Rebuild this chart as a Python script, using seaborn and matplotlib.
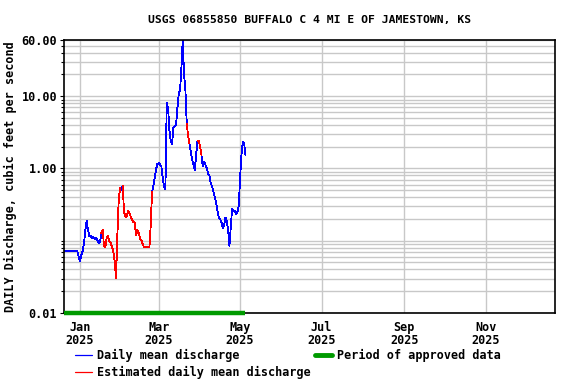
import numpy as np
import pandas as pd
import matplotlib
matplotlib.use("Agg")
import matplotlib.pyplot as plt
from matplotlib.ticker import LogLocator, NullFormatter, FixedLocator
from matplotlib.lines import Line2D
import seaborn as sns

# daily mean discharge (cfs), starting 2024-12-20
start_date = "2024-12-20"
discharge = [
    0.072, 0.072, 0.072, 0.072, 0.072, 0.072, 0.072, 0.072, 0.072, 0.072, 0.072,
    0.060, 0.052, 0.064, 0.072, 0.093, 0.141, 0.188, 0.141, 0.116, 0.116, 0.109,
    0.112, 0.106, 0.109, 0.102, 0.093, 0.096, 0.128, 0.141, 0.083, 0.083, 0.109,
    0.116, 0.099, 0.093, 0.082, 0.070, 0.051, 0.030, 0.120, 0.366, 0.537, 0.504,
    0.572, 0.250, 0.215, 0.215, 0.258, 0.242, 0.215, 0.194, 0.182, 0.176, 0.120,
    0.141, 0.128, 0.107, 0.102, 0.090, 0.081, 0.081, 0.081, 0.081, 0.081, 0.165,
    0.473, 0.572, 0.738, 0.980, 1.15, 1.19, 1.14, 1.06, 0.74, 0.55, 0.52,
    8.05, 6.87, 3.41, 2.40, 2.18, 3.63, 3.87, 4.06, 6.87, 10.7, 12.2,
    24.6, 60.0, 19.7, 12.2, 4.2, 2.81, 2.25, 1.75, 1.35, 1.12, 0.95,
    1.54, 2.40, 2.40, 2.05, 1.54, 1.08, 1.23, 1.12, 1.02, 0.84, 0.79,
    0.63, 0.56, 0.47, 0.40, 0.34, 0.26, 0.21, 0.20, 0.18, 0.15, 0.165,
    0.21, 0.188, 0.141, 0.085, 0.154, 0.28, 0.26, 0.26, 0.234, 0.25, 0.31,
    0.74, 1.54, 2.32, 2.25, 1.54,
]
# index ranges (inclusive) of the points joined by red (estimated) lines
estimated_runs = [(28, 42), (44, 66), (92, 94), (100, 103)]

approved_period = ("2024-12-20", "2025-05-05")
month_ticks = ["2025-01-01", "2025-03-01", "2025-05-01", "2025-07-01", "2025-09-01", "2025-11-01"]
month_labels = ["Jan\n2025", "Mar\n2025", "May\n2025", "Jul\n2025", "Sep\n2025", "Nov\n2025"]
y_ticks = [0.01, 1, 10, 60]
y_labels = ["0.01", "1.00", "10.00", "60.00"]

df = pd.DataFrame({
    "date": pd.date_range(start_date, periods=len(discharge), freq="D"),
    "cfs": discharge,
})
# each estimated run is its own line
est_parts = []
for i, (a, b) in enumerate(estimated_runs):
    part = df.iloc[a:b + 1].copy()
    part["run"] = i
    est_parts.append(part)
est_df = pd.concat(est_parts, ignore_index=True)

sns.set_style("white")
plt.rcParams["font.family"] = ["DejaVu Sans Mono"]
plt.rcParams["font.weight"] = "bold"
plt.rcParams["axes.titleweight"] = "bold"
plt.rcParams["axes.labelweight"] = "bold"
for key in ["text.color", "axes.labelcolor", "xtick.color", "ytick.color"]:
    plt.rcParams[key] = "black"

fig = plt.figure(figsize=(5.76, 3.84), dpi=100)
ax = fig.add_axes([64 / 576, 1 - 313 / 384, (555 - 64) / 576, (313 - 40) / 384])

sns.lineplot(data=df, x="date", y="cfs", color="#0000ff", lw=0.6,
             antialiased=False, ax=ax)
sns.lineplot(data=est_df, x="date", y="cfs", units="run", estimator=None,
             color="#ff0000", lw=0.6, antialiased=False, ax=ax)
ax.plot(pd.to_datetime(list(approved_period)), [0.01, 0.01], color="#009a00",
        lw=3.2, solid_capstyle="butt", clip_on=False, zorder=5)

ax.set_yscale("log")
ax.set_ylim(0.01, 60)
ax.yaxis.set_major_locator(FixedLocator(y_ticks))
ax.set_yticklabels(y_labels)
ax.yaxis.set_minor_locator(LogLocator(base=10, subs=np.arange(1, 10)))
ax.yaxis.set_minor_formatter(NullFormatter())

ax.set_xlim(pd.Timestamp("2024-12-20"), pd.Timestamp("2025-12-23"))
ax.set_xticks(pd.to_datetime(month_ticks))
ax.set_xticklabels(month_labels, linespacing=0.95)

ax.grid(True, which="both", color="#c8c8c8", lw=1.0)
ax.set_axisbelow(True)
for s in ax.spines.values():
    s.set_color("black")
    s.set_linewidth(1.2)
ax.tick_params(axis="both", which="both", labelsize=8.5, length=3, width=0.8,
               direction="out", left=True, bottom=False, pad=2)
ax.tick_params(axis="y", which="minor", length=2)
ax.tick_params(axis="x", pad=3)

ax.set_xlabel("")
ax.set_ylabel("DAILY Discharge, cubic feet per second", fontsize=8.5, labelpad=3)
ax.set_title("USGS 06855850 BUFFALO C 4 MI E OF JAMESTOWN, KS", fontsize=8.2, pad=12)

handles = [
    Line2D([], [], color="#0000ff", lw=0.9),
    Line2D([], [], color="#ff0000", lw=0.9),
    Line2D([], [], color="#009a00", lw=3.5),
]
labels = ["Daily mean discharge", "Estimated daily mean discharge", "Period of approved data"]
fig.legend(handles, labels, loc="upper left", bbox_to_anchor=(75 / 576, 1 - 349 / 384),
           ncol=2, frameon=False, fontsize=8.5, handlelength=1.4, handletextpad=0.45,
           columnspacing=0.4, labelspacing=0.3, borderpad=0, borderaxespad=0)

fig.savefig("out.png", dpi=100)
